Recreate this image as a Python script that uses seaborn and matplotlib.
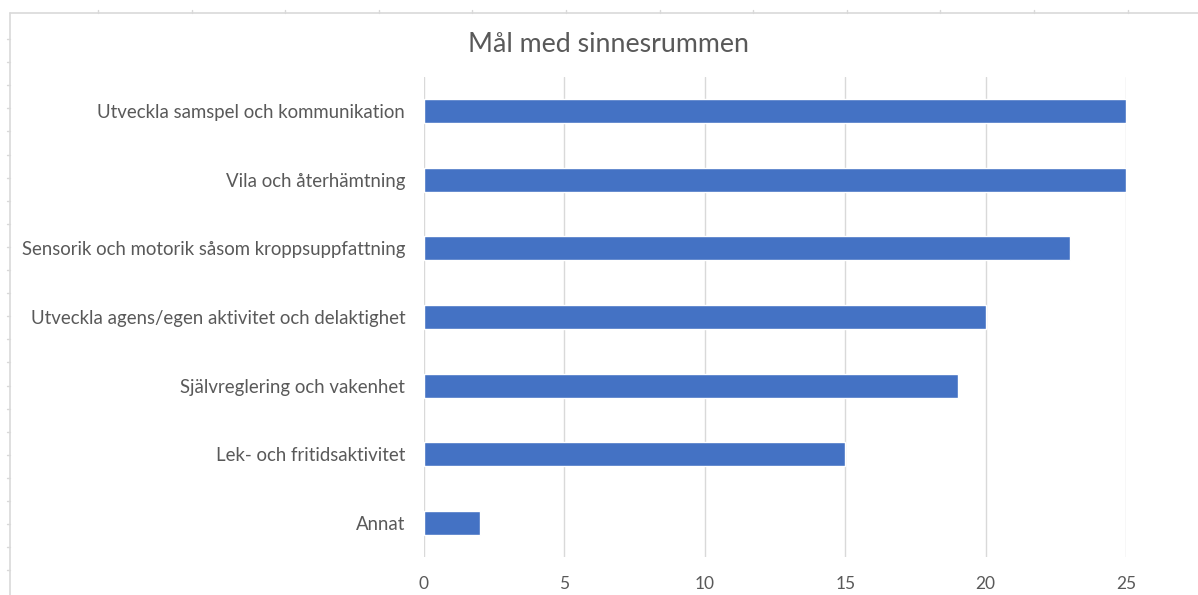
import matplotlib
matplotlib.use("Agg")
import matplotlib.pyplot as plt
from matplotlib.lines import Line2D
import pandas as pd
import seaborn as sns

categories = [
    "Utveckla samspel och kommunikation",
    "Vila och återhämtning",
    "Sensorik och motorik såsom kroppsuppfattning",
    "Utveckla agens/egen aktivitet och delaktighet",
    "Självreglering och vakenhet",
    "Lek- och fritidsaktivitet",
    "Annat",
]
counts = [25, 25, 23, 20, 19, 15, 2]
x_ticks = [0, 5, 10, 15, 20, 25]

df = pd.DataFrame({"mal": categories, "antal": counts})

sns.set_style("white")
plt.rcParams["font.family"] = ["Lato", "DejaVu Sans"]

W, H = 1198, 595
fig = plt.figure(figsize=(W / 100, H / 100), dpi=100)
ax = fig.add_axes([424 / W, 1 - 557 / H, (1126 - 424) / W, (557 - 77) / H])

sns.barplot(data=df, x="antal", y="mal", orient="h", color="#4472C4",
            width=0.35, saturation=1, ax=ax)

ax.set_xlim(0, 25)
ax.set_ylim(6.5, -0.5)
ax.set_xticks(x_ticks)
ax.set_xlabel("")
ax.set_ylabel("")
ax.grid(axis="x", color="#d9d9d9", linewidth=1)
ax.set_axisbelow(True)
for s in ax.spines.values():
    s.set_visible(False)
ax.tick_params(axis="both", length=0, labelcolor="#595959")
ax.tick_params(axis="x", pad=14, labelsize=12.5)
ax.tick_params(axis="y", pad=13.5, labelsize=13.4)

fig.text(608 / W, 1 - 45 / H, "Mål med sinnesrummen", ha="center", va="center",
         fontsize=19.3, color="#595959")

# spreadsheet frame around the chart
grey = "#d9d9d9"
fig.add_artist(Line2D([10 / W, 1], [1 - 13 / H] * 2, color=grey, lw=1.2))
fig.add_artist(Line2D([10 / W] * 2, [0, 1 - 13 / H], color=grey, lw=1.2))
for i in range(12):
    x = (98 + 93.6 * i) / W
    fig.add_artist(Line2D([x, x], [1 - 13 / H, 1 - 10 / H], color=grey, lw=1))
for i in range(24):
    y = 1 - (39 + 23.1 * i) / H
    fig.add_artist(Line2D([7 / W, 10 / W], [y, y], color=grey, lw=1))

fig.savefig("out.png", dpi=100)
